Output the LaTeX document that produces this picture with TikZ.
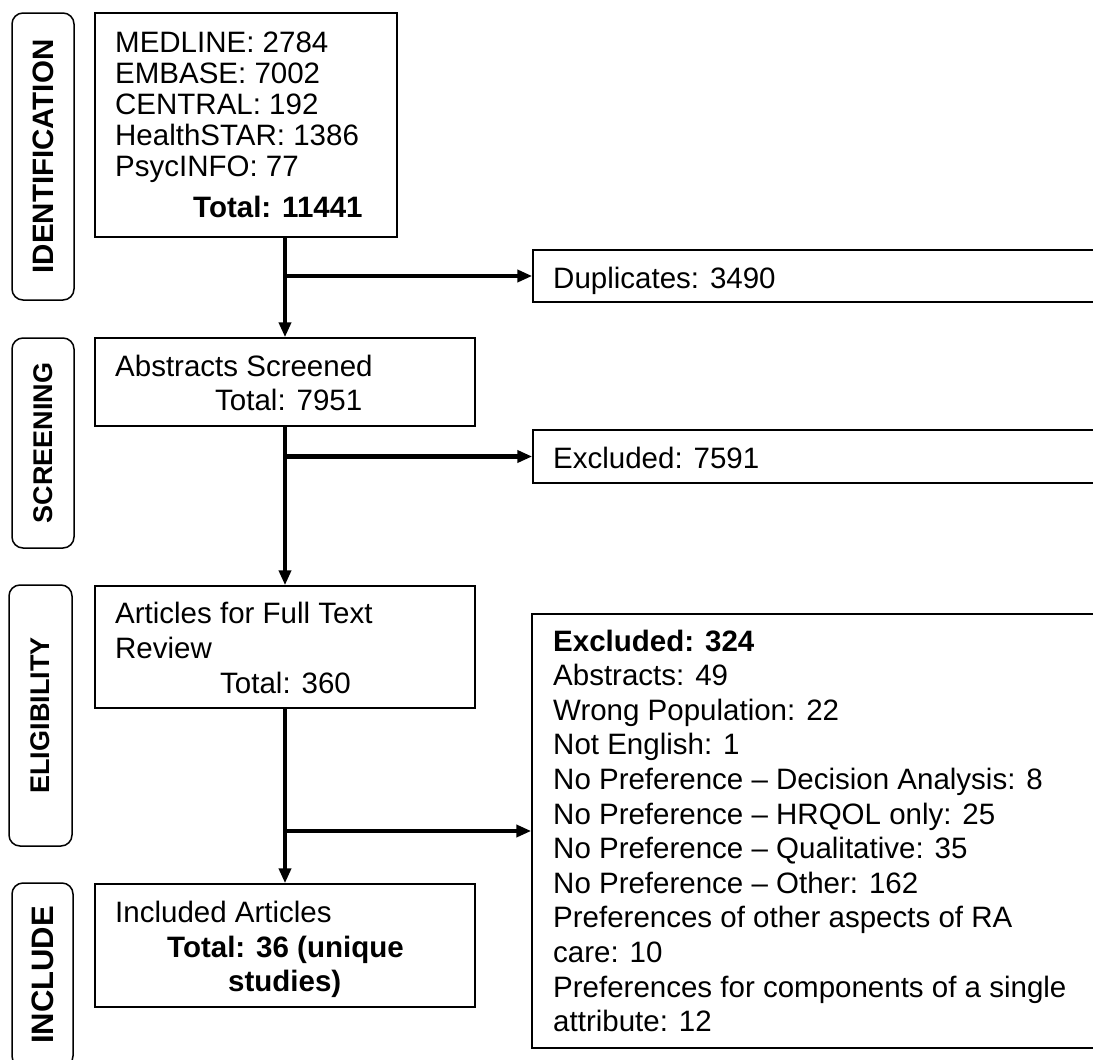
\documentclass[tikz,border=0pt]{standalone}
\usepackage{fontspec}
\setmainfont{Liberation Sans}
\usetikzlibrary{arrows.meta}
\begin{document}
\begin{tikzpicture}[x=1pt,y=-1pt,
  boxshape/.style={draw, line width=1.5pt, rectangle, inner sep=0pt},
  stagebox/.style={draw, line width=1.5pt, rounded corners=11pt, rotate=90, inner sep=0pt,
     font=\bfseries\fontsize{27}{30}\selectfont},
  txt/.style={anchor=base west, inner sep=0pt, font=\fontsize{29.5}{31}\selectfont},
  btxt/.style={txt, font=\bfseries\fontsize{29.5}{31}\selectfont},
  flow/.style={line width=4.8pt, -{Triangle[length=15pt,width=12pt]}}
]
\fill[white] (0,0) rectangle (1093,1060);
\useasboundingbox (0,0) rectangle (1093,1060);
\clip (0,0) rectangle (1093,1060);

% stage labels
\node[stagebox, minimum width=287pt, minimum height=62pt, font=\bfseries\fontsize{29.5}{30}\selectfont] (sid) at (43,156.5) {IDENTIFICATION};
\node[stagebox, minimum width=210pt, minimum height=62pt] (ssc) at (43,443) {SCREENING};
\node[stagebox, minimum width=261pt, minimum height=63pt] (sel) at (40.5,715.5) {ELIGIBILITY};
\node[stagebox, minimum width=184pt, minimum height=61pt, font=\bfseries\fontsize{31}{32}\selectfont] (sin) at (42.5,975) {INCLUDE};

% main boxes
\node[boxshape, minimum width=302pt, minimum height=224pt] (b1) at (246,125) {};
\node[boxshape, minimum width=567pt, minimum height=52pt] (dup) at (816.5,276) {};
\node[boxshape, minimum width=380pt, minimum height=88pt] (b2) at (285,382) {};
\node[boxshape, minimum width=567pt, minimum height=53pt] (ex1) at (816.5,456.5) {};
\node[boxshape, minimum width=380pt, minimum height=122pt] (b3) at (285,647) {};
\node[boxshape, minimum width=568pt, minimum height=434pt] (ex2) at (816,831) {};
\node[boxshape, minimum width=380pt, minimum height=123pt] (b5) at (285,945.5) {};

% texts box 1
\node[txt] (t11) at (115,52) {MEDLINE: 2784};
\node[txt] (t12) at (115,83) {EMBASE: 7002};
\node[txt] (t13) at (115,114) {CENTRAL: 192};
\node[txt] (t14) at (115,145) {HealthSTAR: 1386};
\node[txt] (t15) at (115,176) {PsycINFO: 77};
\node[btxt] (t16) at (193,217) {Total: 11441};

\node[txt] (tdup) at (553,288) {Duplicates: 3490};

\node[txt] (t21) at (115,376) {Abstracts Screened};
\node[txt] (t22) at (215,410) {Total: 7951};

\node[txt] (tex1) at (553,468) {Excluded: 7591};

\node[txt] (t31) at (115,623) {Articles for Full Text};
\node[txt] (t32) at (115,658) {Review};
\node[txt] (t33) at (220,693) {Total: 360};

\foreach [count=\i] \t in {{\textbf{Excluded: 324}},
  Abstracts: 49, Wrong Population: 22, Not English: 1,
  No Preference – Decision Analysis: 8,
  No Preference – HRQOL only: 25,
  No Preference – Qualitative: 35,
  No Preference – Other: 162,
  Preferences of other aspects of RA,
  care: 10,
  Preferences for components of a single,
  attribute: 12}
  \node[txt] (e\i) at (553,{651+(\i-1)*34.6}) {\t};

\node[txt] (t51) at (115,922) {Included Articles};
\node[btxt] (t52) at (167,957) {Total: 36 (unique};
\node[btxt] (t53) at (228,991) {studies)};

% connectors
\coordinate (j1) at (b2.north |- dup.west);
\coordinate (j2) at (b3.north |- ex1.west);
\coordinate (j3) at (b5.north |- ex2.west);
\draw[flow] (b2.north |- b1.south) -- (b2.north);
\draw[flow] (j1) -- (dup.west);
\draw[flow] (b2.south) -- (b3.north);
\draw[flow] (j2) -- (ex1.west);
\draw[flow] (b3.south) -- (b5.north);
\draw[flow] (j3) -- (ex2.west);
\end{tikzpicture}
\end{document}
